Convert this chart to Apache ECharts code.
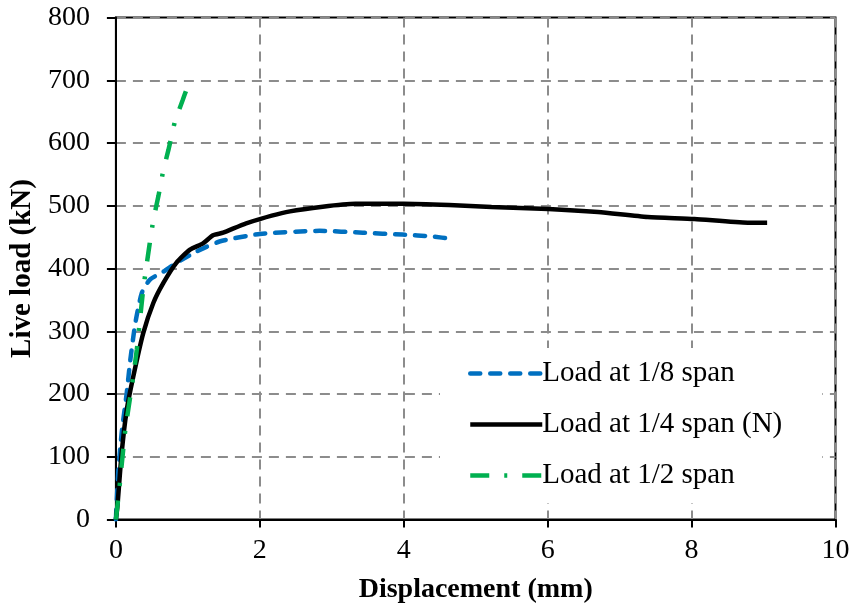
<!DOCTYPE html>
<html>
<head>
<meta charset="utf-8">
<script src="https://cdn.jsdelivr.net/npm/echarts@6/dist/echarts.min.js"></script>
<style>
  html, body { margin: 0; padding: 0; background: #fff; }
  #chart { width: 853px; height: 612px; }
</style>
</head>
<body>
<div id="chart"></div>
<script>
// Load–displacement curves for three loading positions
const seriesNames = ['Load at 1/8 span', 'Load at 1/4 span (N)', 'Load at 1/2 span'];

const dispEighth = [0, 0.01, 0.035, 0.08, 0.15, 0.2, 0.27, 0.36, 0.47, 0.66, 0.84, 1.12, 1.44, 2.0, 2.83, 3.43, 3.98, 4.4, 4.67];
const loadEighth = [0, 26, 79, 138, 201, 254, 313, 361, 382, 395, 409, 427, 443, 455, 460, 457, 454, 451, 447];

const dispQuarter = [0, 0.02, 0.08, 0.15, 0.24, 0.38, 0.52, 0.66, 0.84, 1.03, 1.21, 1.35, 1.49, 1.81, 2.42, 3.33, 4.0, 4.63, 5.22, 6.01, 6.70, 7.39, 8.04, 8.78, 9.05];
const loadQuarter = [0, 20, 106, 174, 227, 297, 345, 377, 409, 430, 440, 453, 457, 472, 491, 503, 503, 501, 498, 495, 490, 482, 479, 473, 473];

const dispHalf = [0, 0.05, 0.13, 0.24, 0.29, 0.38, 0.47, 0.52, 0.59, 0.66, 0.73, 0.82, 0.93, 0.98];
const loadHalf = [0, 52, 142, 227, 270, 367, 440, 477, 515, 557, 589, 634, 669, 685];

const xTicks = [0, 2, 4, 6, 8, 10];
const yTicks = [0, 100, 200, 300, 400, 500, 600, 700, 800];

const pairs = (xs, ys) => xs.map((x, i) => [x, ys[i]]);

const serif = "'Liberation Serif', 'Times New Roman', serif";
const gridDash = { color: '#8c8c8c', width: 2, type: [10, 7] };

const chart = echarts.init(document.getElementById('chart'), null, { renderer: 'canvas' });

chart.setOption({
  animation: false,
  backgroundColor: '#fff',
  grid: {
    left: 112.5, right: 17.5, top: 17.5, bottom: 92.5,
    show: true, borderColor: '#000', borderWidth: 2, backgroundColor: 'transparent'
  },
  legend: {
    orient: 'vertical',
    left: 440, top: 348,
    padding: [11, 40, 13, 28],
    backgroundColor: '#fff',
    itemWidth: 72, itemHeight: 14, itemGap: 22,
    itemStyle: { opacity: 0 },
    lineStyle: { width: 4.5 },
    textStyle: { fontFamily: serif, fontSize: 29, color: '#000', lineHeight: 28, padding: [0, 0, 0, -5] },
    data: seriesNames
  },
  xAxis: {
    type: 'value',
    min: xTicks[0], max: xTicks[xTicks.length - 1], interval: 2,
    name: 'Displacement (mm)', nameLocation: 'middle', nameGap: 56,
    nameTextStyle: { fontFamily: serif, fontSize: 28, fontWeight: 'bold', color: '#000' },
    axisLine: { show: true, onZero: false, lineStyle: { color: '#000', width: 2 } },
    axisTick: { show: true, length: 8, lineStyle: { color: '#000', width: 2 } },
    axisLabel: { fontFamily: serif, fontSize: 28, color: '#000', margin: 17 },
    splitLine: { show: true, lineStyle: gridDash }
  },
  yAxis: {
    type: 'value',
    min: yTicks[0], max: yTicks[yTicks.length - 1], interval: 100,
    name: 'Live load (kN)', nameLocation: 'middle', nameGap: 71,
    nameTextStyle: { fontFamily: serif, fontSize: 29, fontWeight: 'bold', color: '#000' },
    axisLine: { show: true, onZero: false, lineStyle: { color: '#000', width: 2 } },
    axisTick: { show: true, length: 9, lineStyle: { color: '#000', width: 2 } },
    axisLabel: { fontFamily: serif, fontSize: 28, color: '#000', margin: 26 },
    splitLine: { show: true, lineStyle: gridDash }
  },
  series: [
    {
      name: seriesNames[0], type: 'line', showSymbol: false, symbol: 'none', smooth: 0.2,
      data: pairs(dispEighth, loadEighth),
      lineStyle: { color: '#0070C0', width: 4.5, type: [10, 10], cap: 'round' },
      itemStyle: { color: '#0070C0' }
    },
    {
      name: seriesNames[1], type: 'line', showSymbol: false, symbol: 'none', smooth: 0.2,
      data: pairs(dispQuarter, loadQuarter),
      lineStyle: { color: '#000000', width: 4.5, type: 'solid' },
      itemStyle: { color: '#000000' }
    },
    {
      name: seriesNames[2], type: 'line', showSymbol: false, symbol: 'none', smooth: 0.15,
      data: pairs(dispHalf, loadHalf),
      lineStyle: { color: '#00B050', width: 4.5, type: [19, 15, 3, 15] },
      itemStyle: { color: '#00B050' }
    }
  ]
});
</script>
</body>
</html>
